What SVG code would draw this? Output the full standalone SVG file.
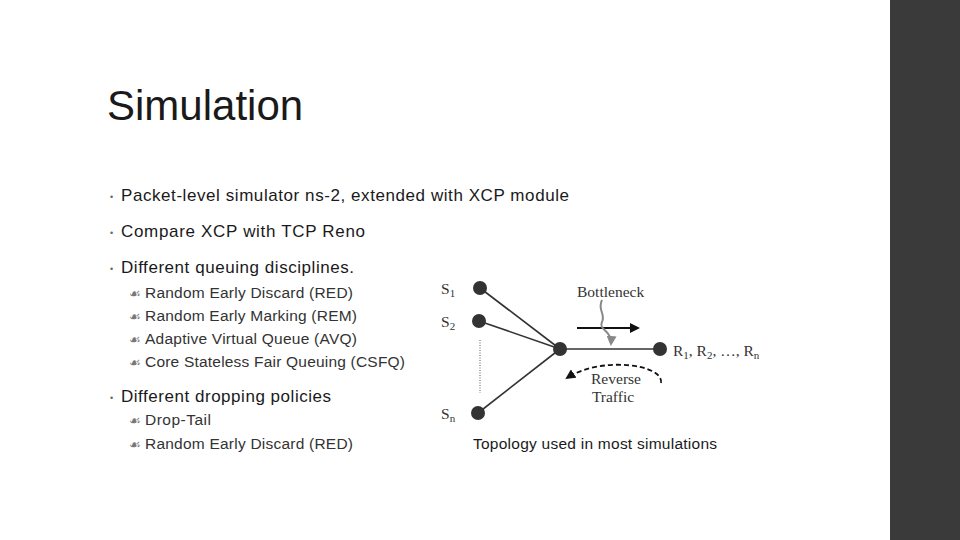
<svg xmlns="http://www.w3.org/2000/svg" width="960" height="540" viewBox="0 0 960 540">
<style>
.t{font-family:"Liberation Sans",Arial,sans-serif;fill:#1a1a1a}
.b{font-size:17px}
.s{font-size:15.5px;fill:#333}
.d{font-family:"Liberation Sans",Arial,sans-serif;font-size:9px;fill:#666}
.g{font-family:"DejaVu Sans",sans-serif;font-size:13px;fill:#777}
.f{font-family:"Liberation Serif","Times New Roman",serif;fill:#333;font-size:15.5px}
.ln{stroke:#333;stroke-width:1.6;fill:none}
.nd{fill:#333}
</style>
<defs>
<marker id="ah" markerWidth="10" markerHeight="10" refX="8" refY="5" orient="auto" markerUnits="userSpaceOnUse"><path d="M0,0 L10,5 L0,10 z" fill="#111"/></marker>
<marker id="ag" markerWidth="10" markerHeight="10" refX="8" refY="5" orient="auto" markerUnits="userSpaceOnUse"><path d="M0,0 L10,5 L0,10 z" fill="#888"/></marker>
</defs>
<rect width="960" height="540" fill="#fff"/>
<rect x="890" y="0" width="70" height="540" fill="#3a3a3a"/>
<text class="t" x="107" y="120" font-size="42">Simulation</text>
<g id="bullets">
<text class="d" x="110" y="200">•</text>
<text class="t b" x="121" y="201" textLength="448">Packet-level simulator ns-2, extended with XCP module</text>
<text class="d" x="110" y="236">•</text>
<text class="t b" x="121" y="237" textLength="244">Compare XCP with TCP Reno</text>
<text class="d" x="110" y="272">•</text>
<text class="t b" x="121" y="273" textLength="233">Different queuing disciplines.</text>
<text class="g" x="129" y="298">☙</text><text class="t s" x="145" y="298" textLength="208">Random Early Discard (RED)</text>
<text class="g" x="129" y="321">☙</text><text class="t s" x="145" y="321" textLength="212">Random Early Marking (REM)</text>
<text class="g" x="129" y="344">☙</text><text class="t s" x="145" y="344" textLength="212">Adaptive Virtual Queue (AVQ)</text>
<text class="g" x="129" y="367">☙</text><text class="t s" x="145" y="367" textLength="260">Core Stateless Fair Queuing (CSFQ)</text>
<text class="d" x="110" y="401">•</text>
<text class="t b" x="121" y="402" textLength="210">Different dropping policies</text>
<text class="g" x="129" y="425">☙</text><text class="t s" x="145" y="425" textLength="66">Drop-Tail</text>
<text class="g" x="129" y="449">☙</text><text class="t s" x="145" y="449" textLength="208">Random Early Discard (RED)</text>
</g>
<g id="connectors">
<line class="ln" x1="480" y1="288" x2="560" y2="349"/>
<line class="ln" x1="479" y1="321" x2="560" y2="349"/>
<line class="ln" x1="478" y1="413" x2="560" y2="349"/>
<line class="ln" x1="560" y1="349" x2="660" y2="349"/>
<line x1="480" y1="340" x2="480" y2="393" stroke="#555" stroke-width="1" stroke-dasharray="1,1.5"/>
<line x1="577" y1="328" x2="638" y2="328" stroke="#111" stroke-width="2" marker-end="url(#ah)"/>
<path d="M602,300 C597,310 606,314 602,322 C598,330 612,330 611,344" stroke="#888" stroke-width="2" fill="none" marker-end="url(#ag)"/>
<path d="M661,383 C664,364 600,356 567,378" stroke="#111" stroke-width="1.8" fill="none" stroke-dasharray="5,3" marker-end="url(#ah)"/>
</g>
<g id="S1"><circle class="nd" cx="480" cy="288" r="7"/><text class="f" x="441" y="294" font-size="17">S<tspan font-size="11" dy="3">1</tspan></text></g>
<g id="S2"><circle class="nd" cx="479" cy="321" r="7"/><text class="f" x="441" y="327" font-size="17">S<tspan font-size="11" dy="3">2</tspan></text></g>
<g id="Sn"><circle class="nd" cx="478" cy="413" r="7"/><text class="f" x="441" y="419" font-size="17">S<tspan font-size="11" dy="3">n</tspan></text></g>
<g id="hub"><circle class="nd" cx="560" cy="349" r="7"/></g>
<g id="R"><circle class="nd" cx="660" cy="349" r="7"/><text class="f" x="673" y="356" font-size="17.5">R<tspan font-size="11" dy="3">1</tspan><tspan dy="-3">, R</tspan><tspan font-size="11" dy="3">2</tspan><tspan dy="-3">, …, R</tspan><tspan font-size="11" dy="3">n</tspan></text></g>
<text class="f" x="577" y="297">Bottleneck</text>
<text class="f" x="616" y="384" text-anchor="middle">Reverse</text>
<text class="f" x="613" y="402" text-anchor="middle">Traffic</text>
<text class="t" x="473" y="449" font-size="15.5" fill="#333" textLength="244">Topology used in most simulations</text>
</svg>
